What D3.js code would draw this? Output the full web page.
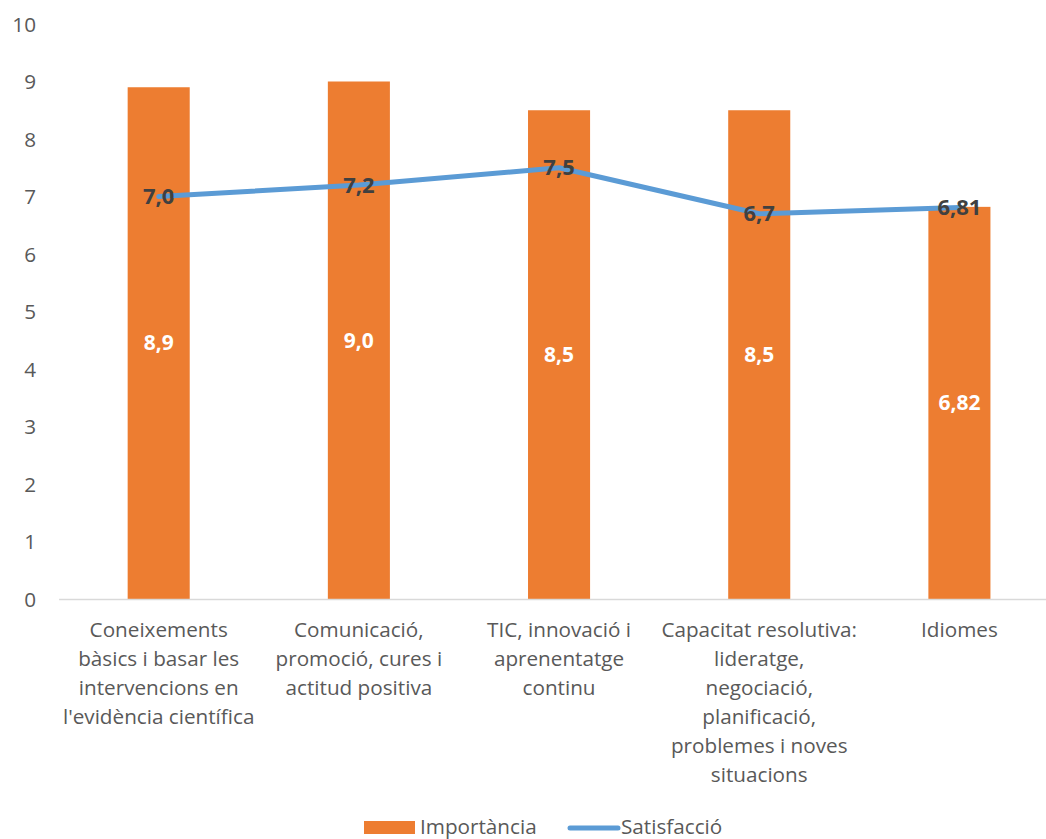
<!DOCTYPE html>
<html>
<head>
<meta charset="utf-8">
<script src="https://d3js.org/d3.v7.min.js"></script>
<style>
  html, body { margin: 0; padding: 0; background: #fff; }
  svg { display: block; font-family: "Open Sans", "Noto Sans", sans-serif; }
</style>
</head>
<body>
<svg id="chart" width="1046" height="839"></svg>
<script>
// Competències: importància vs satisfacció
const categories = [
  ["Coneixements", "bàsics i basar les", "intervencions en", "l'evidència científica"],
  ["Comunicació,", "promoció, cures i", "actitud positiva"],
  ["TIC, innovació i", "aprenentatge", "continu"],
  ["Capacitat resolutiva:", "lideratge,", "negociació,", "planificació,", "problemes i noves", "situacions"],
  ["Idiomes"]
];
const importancia = [8.9, 9.0, 8.5, 8.5, 6.82];
const importanciaLabels = ["8,9", "9,0", "8,5", "8,5", "6,82"];
const satisfaccio = [7.0, 7.2, 7.5, 6.7, 6.81];
const satisfaccioLabels = ["7,0", "7,2", "7,5", "6,7", "6,81"];
const yTicks = [0, 1, 2, 3, 4, 5, 6, 7, 8, 9, 10];
const seriesNames = ["Importància", "Satisfacció"];

const svg = d3.select("#chart");
const margin = { left: 58.6, right: 1059.5, top: 24, bottom: 599 };
const idx = d3.range(categories.length);

const x = d3.scaleBand().domain(idx).range([margin.left, margin.right]).paddingInner(0.69).paddingOuter(0.345);
const xc = i => x(i) + x.bandwidth() / 2;
const y = d3.scaleLinear().domain([0, 10]).range([margin.bottom, margin.top]);

// y axis labels (right-aligned)
const yAxis = d3.axisLeft(y).tickValues(yTicks).tickSize(0).tickPadding(0).tickFormat(d3.format("d"));
const gy = svg.append("g").attr("transform", "translate(36,0)").call(yAxis);
gy.select(".domain").remove();
gy.selectAll("text").attr("fill", "#595959").style("font-size", "20.7px").style("font-family", "'Open Sans', sans-serif")
  .attr("text-anchor", "end").attr("dy", "0.35em");

// bars
svg.append("g").selectAll("rect").data(idx).join("rect")
  .attr("x", i => x(i)).attr("width", x.bandwidth())
  .attr("y", i => y(importancia[i])).attr("height", i => y(0) - y(importancia[i]))
  .attr("fill", "#ED7D31");

// category axis
const xAxis = d3.axisBottom(x).tickSize(0).tickFormat("");
const gx = svg.append("g").attr("transform", `translate(0,${y(0)})`).call(xAxis);
gx.select(".domain").attr("stroke", "#D9D9D9").attr("stroke-width", 1.3);

const catG = svg.append("g").attr("fill", "#595959").style("font-size", "20.7px").attr("text-anchor", "middle");
idx.forEach(i => {
  const t = catG.append("text").attr("x", xc(i)).attr("y", 637);
  categories[i].forEach((line, k) => {
    t.append("tspan").attr("x", xc(i)).attr("dy", k === 0 ? 0 : 29).text(line);
  });
});

// bar value labels
svg.append("g").selectAll("text").data(idx).join("text")
  .attr("x", xc).attr("y", i => (y(importancia[i]) + y(0)) / 2)
  .attr("dy", "0.35em").attr("text-anchor", "middle")
  .attr("fill", "#fff").style("font-size", "21px").style("font-weight", "bold")
  .text(i => importanciaLabels[i]);

// satisfaction line
const line = d3.line().x(i => xc(i)).y(i => y(satisfaccio[i]));
svg.append("path").datum(idx).attr("d", line)
  .attr("fill", "none").attr("stroke", "#5B9BD5").attr("stroke-width", 5)
  .attr("stroke-linecap", "round").attr("stroke-linejoin", "round");

svg.append("g").selectAll("text").data(idx).join("text")
  .attr("x", xc).attr("y", i => y(satisfaccio[i]))
  .attr("dy", "0.35em").attr("text-anchor", "middle")
  .attr("fill", "#404040").style("font-size", "22px").style("font-weight", "bold")
  .text(i => satisfaccioLabels[i]);

// legend
const leg = svg.append("g").style("font-size", "20.7px").attr("fill", "#595959");
leg.append("rect").attr("x", 364).attr("y", 821).attr("width", 51).attr("height", 13).attr("fill", "#ED7D31");
leg.append("text").attr("x", 420).attr("y", 827).attr("dy", "0.35em").text(seriesNames[0]);
leg.append("line").attr("x1", 570).attr("x2", 618).attr("y1", 828).attr("y2", 828)
  .attr("stroke", "#5B9BD5").attr("stroke-width", 5).attr("stroke-linecap", "round");
leg.append("text").attr("x", 621).attr("y", 827).attr("dy", "0.35em").text(seriesNames[1]);
</script>
</body>
</html>
